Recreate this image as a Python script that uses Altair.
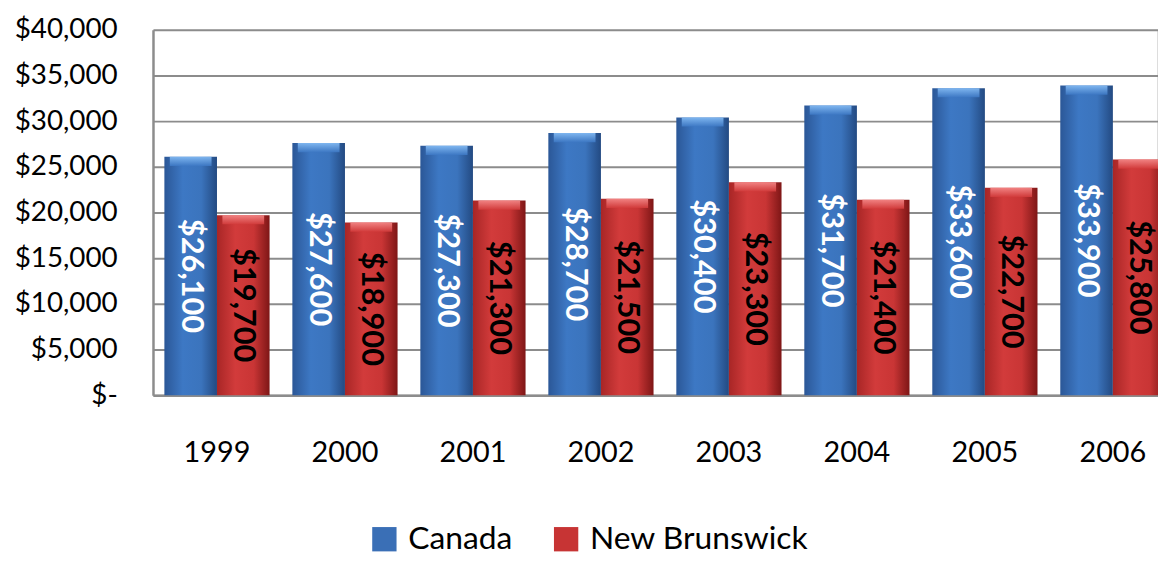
import altair as alt
import pandas as pd

years = ["1999", "2000", "2001", "2002", "2003", "2004", "2005", "2006"]
canada = [26100, 27600, 27300, 28700, 30400, 31700, 33600, 33900]
new_brunswick = [19700, 18900, 21300, 21500, 23300, 21400, 22700, 25800]
series_names = ["Canada", "New Brunswick"]
y_ticks = [0, 5000, 10000, 15000, 20000, 25000, 30000, 35000, 40000]

rows = []
for y, c, n in zip(years, canada, new_brunswick):
    rows.append({"year": y, "series": "Canada", "value": c})
    rows.append({"year": y, "series": "New Brunswick", "value": n})
df = pd.DataFrame(rows)

FONT = "Lato"
GRID = "#8c8c8c"


def hgrad(c0, c1, c2, c3):
    return alt.Gradient(
        gradient="linear", x1=0, x2=1, y1=0, y2=0,
        stops=[
            alt.GradientStop(color=c0, offset=0),
            alt.GradientStop(color=c1, offset=0.35),
            alt.GradientStop(color=c2, offset=0.7),
            alt.GradientStop(color=c3, offset=1),
        ],
    )


def vgrad(top, bottom):
    return alt.Gradient(
        gradient="linear", x1=0, x2=0, y1=0, y2=1,
        stops=[
            alt.GradientStop(color=top, offset=0),
            alt.GradientStop(color=bottom, offset=1),
        ],
    )


blue_grad = hgrad("#2b5797", "#3d78c4", "#3b74bd", "#234a82")
red_grad = hgrad("#a82626", "#d23b3b", "#c93535", "#7e1616")
blue_top = vgrad("#86bdf5", "#3d78c4")
red_top = vgrad("#f58a8a", "#d23b3b")

x_enc = alt.X(
    "year:N",
    sort=years,
    scale=alt.Scale(paddingInner=0.178, paddingOuter=0.089, range=[0, 1031]),
    axis=alt.Axis(
        title=None, labelAngle=0, ticks=False, labelFontSize=29,
        labelPadding=44, labelColor="#000000", labelFont=FONT,
        domainColor=GRID, domainWidth=2.5, grid=False,
    ),
)
xo_enc = alt.XOffset("series:N", scale=alt.Scale(domain=series_names, paddingInner=0, paddingOuter=0))
y_enc = alt.Y(
    "value:Q",
    scale=alt.Scale(domain=[0, 40000], nice=False),
    axis=alt.Axis(
        title=None, values=y_ticks, ticks=False, labelFontSize=28,
        labelPadding=36, labelColor="#000000", labelFont=FONT,
        labelExpr="datum.value == 0 ? '$-\u00a0\u00a0\u00a0\u00a0\u00a0\u00a0' : '$' + format(datum.value, ',')",
        grid=True, gridColor=GRID, gridWidth=2, gridOpacity=1,
        domainColor=GRID, domainWidth=2.5,
    ),
)

base = alt.Chart(df)
is_c = alt.datum.series == "Canada"
is_n = alt.datum.series == "New Brunswick"

bars_c = base.transform_filter(is_c).mark_bar(fill=blue_grad).encode(
    x=x_enc, xOffset=xo_enc, y=y_enc
)
bars_n = base.transform_filter(is_n).mark_bar(fill=red_grad).encode(
    x=x_enc, xOffset=xo_enc, y=y_enc
)

tops = base.transform_calculate(lo="datum.value - 1000")
top_c = tops.transform_filter(is_c).mark_bar(fill=blue_top, opacity=0.9, xOffset=5, width=42).encode(
    x=x_enc, xOffset=xo_enc, y="value:Q", y2="lo:Q"
)
top_n = tops.transform_filter(is_n).mark_bar(fill=red_top, opacity=0.9, xOffset=5, width=42).encode(
    x=x_enc, xOffset=xo_enc, y="value:Q", y2="lo:Q"
)

lab = base.transform_calculate(
    mid="datum.value / 2", txt="'$' + format(datum.value, ',')"
)
text_c = lab.transform_filter(is_c).mark_text(
    angle=90, align="center", baseline="middle", fontSize=31, fontWeight="bold",
    font=FONT, color="#ffffff",
).encode(x=x_enc, xOffset=xo_enc, y=alt.Y("mid:Q"), text="txt:N")
text_n = lab.transform_filter(is_n).mark_text(
    angle=90, align="center", baseline="middle", fontSize=31, fontWeight="bold",
    font=FONT, color="#000000",
).encode(x=x_enc, xOffset=xo_enc, y=alt.Y("mid:Q"), text="txt:N")

legend_layer = base.mark_square(opacity=0).encode(
    x=x_enc, xOffset=xo_enc, y=y_enc,
    color=alt.Color(
        "series:N",
        scale=alt.Scale(domain=series_names, range=["#3a6fb6", "#c73434"]),
        legend=alt.Legend(
            title=None, orient="none", legendX=217, legendY=497, direction="horizontal",
            symbolType="square", symbolSize=600, symbolOpacity=1, symbolStrokeWidth=0,
            labelFontSize=32, labelFont=FONT, labelColor="#000000", labelOffset=8,
            labelLimit=0, columnPadding=38,
        ),
    ),
)

chart = alt.layer(bars_c, bars_n, top_c, top_n, text_c, text_n, legend_layer).properties(
    width=1011, height=368,
    autosize=alt.AutoSizeParams(type="none"),
    padding={"left": 146, "top": 20, "right": 1, "bottom": 163},
).configure_view(stroke=None).configure(background="#ffffff")

chart.save("out.html", embed_options={"renderer": "svg", "actions": False})
